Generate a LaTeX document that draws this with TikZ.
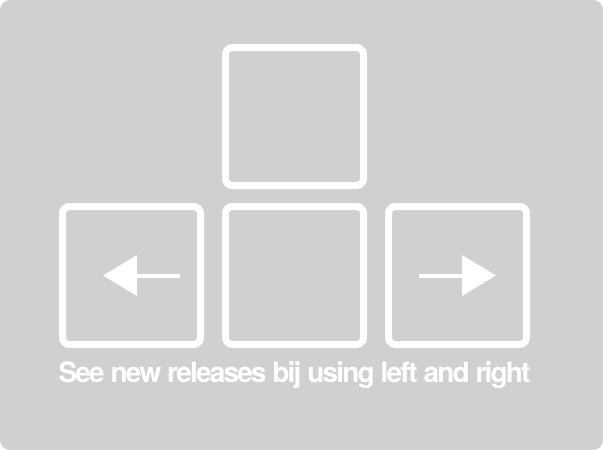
\documentclass[tikz,border=0pt]{standalone}
\usepackage{fontspec}
\newfontfamily\captionfont[LetterSpace=-6.6]{TeX Gyre Heros}
\usetikzlibrary{positioning,arrows.meta}
\definecolor{panelgray}{RGB}{208,208,208}
\tikzset{
    key/.style={draw=white, line width=7pt, rounded corners=7pt, minimum width=138pt, minimum height=138pt, inner sep=0pt},
    arrowline/.style={white, line width=4pt, -{Triangle[length=34pt,width=40pt]}},
    caption/.style={text=white, inner sep=0pt, anchor=base, font=\captionfont\bfseries\fontsize{28}{28}\selectfont}
}
\begin{document}
\begin{tikzpicture}[x=1pt, y=-1pt]
    \useasboundingbox (0, 0) rectangle (603, 450);
    \fill[white] (0, 0) rectangle (603, 450);
    \fill[panelgray, rounded corners=10pt] (0, 0) rectangle (603, 450);
    \node[key] (mid) at (294.5, 275.5) {};
    \node[key, above=14pt of mid] (up) {};
    \node[key, left=18pt of mid] (leftkey) {};
    \node[key, right=18pt of mid] (rightkey) {};
    \draw[arrowline] ([xshift=48.5pt]leftkey.center) -- ([xshift=-28.5pt]leftkey.center);
    \draw[arrowline] ([xshift=-38.5pt]rightkey.center) -- ([xshift=38.5pt]rightkey.center);
    \node[caption] (hint) at ([yshift=-34pt]mid.south) {See new releases bij using left and right};
\end{tikzpicture}
\end{document}
